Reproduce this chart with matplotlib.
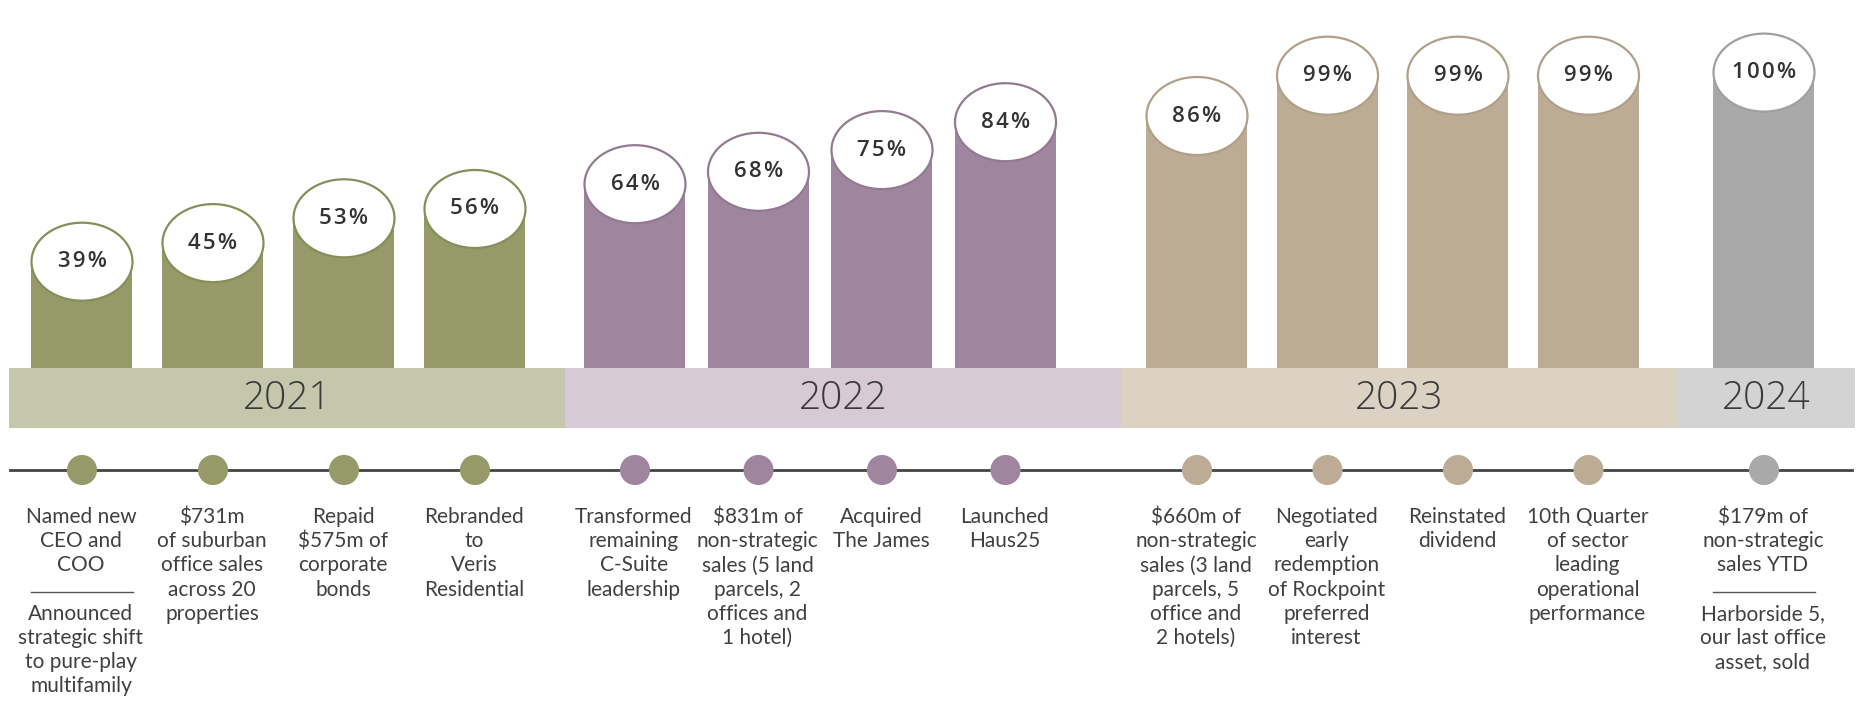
import matplotlib
matplotlib.use('Agg')
import matplotlib.pyplot as plt
from matplotlib.patches import Ellipse, Rectangle

# data
years = ['2021', '2022', '2023', '2024']
item_years = ['2021'] * 4 + ['2022'] * 4 + ['2023'] * 4 + ['2024']
percents = [39, 45, 53, 56, 64, 68, 75, 84, 86, 99, 99, 99, 100]
SEP = None
milestones = [
    ['Named new', 'CEO and', 'COO', SEP, 'Announced', 'strategic shift',
     'to pure-play', 'multifamily'],
    ['\\$731m', 'of suburban', 'office sales', 'across 20', 'properties'],
    ['Repaid', '\\$575m of', 'corporate', 'bonds'],
    ['Rebranded', 'to', 'Veris', 'Residential'],
    ['Transformed', 'remaining', 'C-Suite', 'leadership'],
    ['\\$831m of', 'non-strategic', 'sales (5 land', 'parcels, 2',
     'offices and', '1 hotel)'],
    ['Acquired', 'The James'],
    ['Launched', 'Haus25'],
    ['\\$660m of', 'non-strategic', 'sales (3 land', 'parcels, 5',
     'office and', '2 hotels)'],
    ['Negotiated', 'early', 'redemption', 'of Rockpoint', 'preferred',
     'interest'],
    ['Reinstated', 'dividend'],
    ['10th Quarter', 'of sector', 'leading', 'operational', 'performance'],
    ['\\$179m of', 'non-strategic', 'sales YTD', SEP, 'Harborside 5,',
     'our last office', 'asset, sold'],
]

# styles
bar_colors = {'2021': '#959a68', '2022': '#9f869e', '2023': '#bcab95', '2024': '#a9a9a9'}
rim_colors = {'2021': '#868f5a', '2022': '#927a92', '2023': '#b0a089', '2024': '#a0a0a0'}
band_colors = {'2021': '#c4c7ab', '2022': '#d6cad7', '2023': '#dbd2c4', '2024': '#d3d3d3'}
band_edges = [9, 565, 1121, 1677, 1855]
group_layout = {'2021': (82, 131), '2022': (635, 123.5), '2023': (1197, 130.5), '2024': (1764, 0)}

W, H = 1858, 714
fig = plt.figure(figsize=(W / 100, H / 100), dpi=100)

# cylinders axes: value scale
ax_bar = fig.add_axes([0, (H - 382.6) / H, 1, 310 / H])
ax_bar.set_xlim(0, W)
ax_bar.set_ylim(0, 100)
ax_bar.set_axis_off()

# pixel axes for bands and timeline
ax = fig.add_axes([0, 0, 1, 1])
ax.set_xlim(0, W)
ax.set_ylim(H, 0)
ax.set_axis_off()
ax.patch.set_visible(False)
ax.set_zorder(2)

xs = []
counters = {}
for y in item_years:
    k = counters.get(y, 0)
    start, step = group_layout[y]
    xs.append(start + k * step)
    counters[y] = k + 1

bar_w = 101
ell_h = 78 / 3.1
for x, v, y in zip(xs, percents, item_years):
    bars = ax_bar.bar(x, v, width=bar_w, color=bar_colors[y], zorder=1)
    for b in bars:
        b.set_clip_on(False)
    ax_bar.add_patch(Ellipse((x, v), bar_w, ell_h, facecolor='white',
                             edgecolor=rim_colors[y], lw=1.6, zorder=2,
                             clip_on=False))
    ax_bar.text(x, v, '\u200a'.join(f'{v}%'), ha='center', va='center',
                fontsize=16, family=['Open Sans', 'DejaVu Sans'],
                fontweight='semibold', color='#333333', zorder=3,
                clip_on=False)

# year bands
for i, yr in enumerate(years):
    x0, x1 = band_edges[i], band_edges[i + 1]
    ax.add_patch(Rectangle((x0, 368), x1 - x0, 60, color=band_colors[yr], lw=0))
    ax.text((x0 + x1) / 2, 399, yr, ha='center', va='center', fontsize=28,
            family=['Open Sans', 'DejaVu Sans'], fontweight='light',
            color='#3a3a3a')

# timeline
ax.plot([10, 1852], [470, 470], color='#444444', lw=2, zorder=1)
ax.scatter(xs, [470] * len(xs), s=470, c=[bar_colors[y] for y in item_years],
           zorder=3, linewidths=0)

for x, lines in zip(xs, milestones):
    for k, line in enumerate(lines):
        ly = 517 + 24.2 * k
        if line is None:
            ax.plot([x - 51, x + 51], [ly + 2, ly + 2], color='#555555', lw=1)
        else:
            ax.text(x - 1, ly, line, ha='center', va='center', fontsize=15,
                    family=['Lato', 'DejaVu Sans'], color='#404040')

fig.savefig('out.png', dpi=100)
